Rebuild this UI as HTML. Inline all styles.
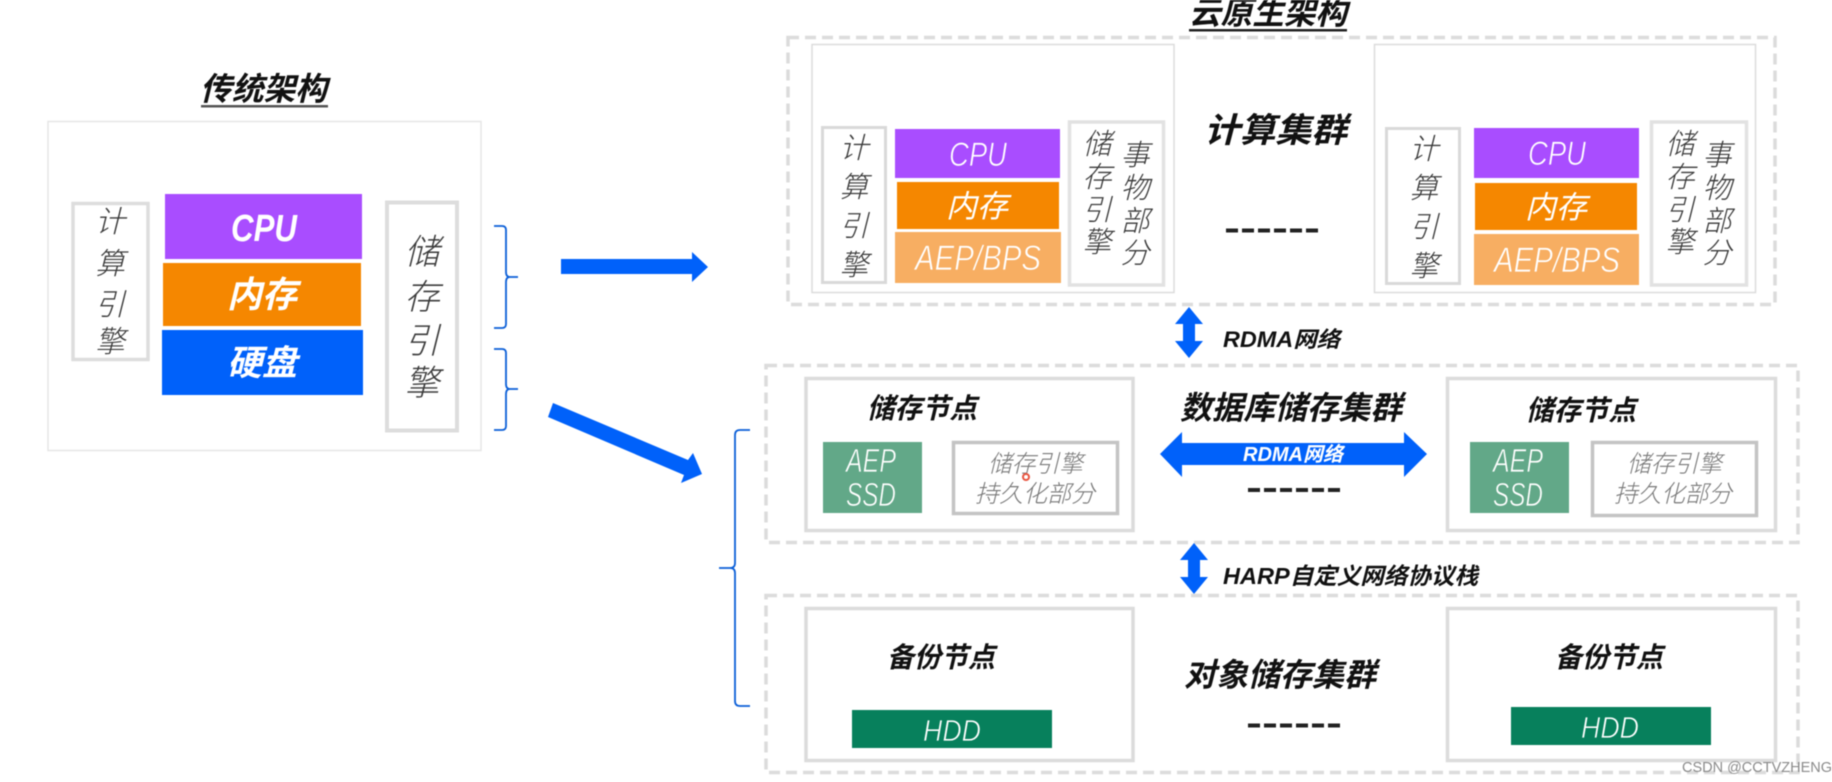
<!DOCTYPE html>
<html lang="zh">
<head>
<meta charset="utf-8">
<title>传统架构与云原生架构</title>
<style>
html,body{margin:0;padding:0;background:#fff;width:1832px;height:782px;overflow:hidden}
svg{display:block;filter:blur(.45px)}
text{font-family:"Liberation Sans","Noto Sans CJK SC",sans-serif;font-style:italic}
.t{fill:#111;font-weight:700}
.l{fill:#3a3a3a;font-weight:300}
.w{fill:#fff;font-weight:400}
.wb{fill:#fff;font-weight:700}
.g{fill:#777;font-weight:300}
</style>
</head>
<body>
<svg width="1832" height="782" viewBox="0 0 1832 782" xmlns="http://www.w3.org/2000/svg">
<rect width="1832" height="782" fill="#fff"/>

<!-- Traditional architecture -->
<text class="t" x="200" y="100" font-size="32" textLength="127" lengthAdjust="spacingAndGlyphs">传统架构</text>
<rect x="201" y="105" width="127" height="2.5" fill="#555"/>
<rect x="48" y="121.5" width="433" height="329" fill="#fff" stroke="#e6e6e6" stroke-width="1.5"/>
<rect x="73" y="203.5" width="75" height="156" fill="#fff" stroke="#ddd" stroke-width="3.5"/>
<text class="l" x="110" y="232" font-size="30" text-anchor="middle">计</text>
<text class="l" x="110" y="274" font-size="30" text-anchor="middle">算</text>
<text class="l" x="110" y="315" font-size="30" text-anchor="middle">引</text>
<text class="l" x="110" y="352" font-size="30" text-anchor="middle">擎</text>
<rect x="165" y="194" width="197" height="65" fill="#a94dff"/>
<rect x="163" y="263" width="198" height="63" fill="#f58700"/>
<rect x="162" y="330" width="201" height="65" fill="#0061fa"/>
<text class="wb" x="231" y="241" font-size="38" textLength="66" lengthAdjust="spacingAndGlyphs">CPU</text>
<text class="wb" x="227" y="307" font-size="36" textLength="70" lengthAdjust="spacingAndGlyphs">内存</text>
<text class="wb" x="227" y="375" font-size="35" textLength="70" lengthAdjust="spacingAndGlyphs">硬盘</text>
<rect x="387" y="202.5" width="70" height="228" fill="#fff" stroke="#ddd" stroke-width="4"/>
<text class="l" x="422" y="264" font-size="35" text-anchor="middle">储</text>
<text class="l" x="422" y="309" font-size="35" text-anchor="middle">存</text>
<text class="l" x="422" y="353" font-size="35" text-anchor="middle">引</text>
<text class="l" x="422" y="395" font-size="35" text-anchor="middle">擎</text>

<!-- Brackets -->
<g fill="none" stroke="#0b5fd8" stroke-width="1.8">
<path d="M494 226 H502 Q506 226 506 230 V272 Q506 277 510 277 H518 M510 277 Q506 277 506 282 V324 Q506 328 502 328 H494"/>
<path d="M494 349 H502 Q506 349 506 353 V384 Q506 389 510 389 H518 M510 389 Q506 389 506 394 V426 Q506 430 502 430 H494"/>
<path d="M750 430 H740 Q735 430 735 435 V563 Q735 568 730 568 H719 M730 568 Q735 568 735 573 V701 Q735 706 740 706 H750"/>
</g>

<!-- Main arrows -->
<polygon points="561,259 692,259 692,252 708,267 692,282 692,274 561,274" fill="#0061fa"/>
<polygon points="553,403 688,460 693,453 702,474 681,483 684,475 548,417" fill="#0061fa"/>

<!-- Cloud native title -->
<text class="t" x="1189" y="24" font-size="32" textLength="158" lengthAdjust="spacingAndGlyphs">云原生架构</text>
<rect x="1189" y="29" width="158" height="2.5" fill="#222"/>

<!-- Compute cluster -->
<rect x="788" y="37.5" width="987" height="267" fill="none" stroke="#dcdcdc" stroke-width="3.5" stroke-dasharray="11 6"/>
<rect x="812" y="44.5" width="362" height="248" fill="#fff" stroke="#dcdcdc" stroke-width="1.5"/>
<rect x="1374.5" y="44.5" width="381" height="248" fill="#fff" stroke="#dcdcdc" stroke-width="1.5"/>

<rect x="822.5" y="127.5" width="63" height="155" fill="#fff" stroke="#d9d9d9" stroke-width="3"/>
<text class="l" x="854" y="158" font-size="29" text-anchor="middle">计</text>
<text class="l" x="854" y="197" font-size="29" text-anchor="middle">算</text>
<text class="l" x="854" y="236" font-size="29" text-anchor="middle">引</text>
<text class="l" x="854" y="275" font-size="29" text-anchor="middle">擎</text>
<rect x="895" y="129" width="165" height="49" fill="#a94dff"/>
<rect x="897" y="182" width="162" height="47" fill="#f58700"/>
<rect x="895" y="232" width="166" height="51" fill="#f7ae62"/>
<text class="w" x="949" y="166" font-size="34" textLength="58" lengthAdjust="spacingAndGlyphs" stroke="#a94dff" stroke-width=".7">CPU</text>
<text class="w" x="946" y="217" font-size="31" textLength="62" lengthAdjust="spacingAndGlyphs">内存</text>
<text class="w" x="915" y="270" font-size="35" textLength="126" lengthAdjust="spacingAndGlyphs" stroke="#f7ae62" stroke-width=".7">AEP/BPS</text>
<rect x="1069.5" y="122" width="94" height="163" fill="#fff" stroke="#e2e2e2" stroke-width="3.5"/>
<text class="l" x="1097" y="154" font-size="29" text-anchor="middle">储</text>
<text class="l" x="1097" y="187" font-size="29" text-anchor="middle">存</text>
<text class="l" x="1097" y="220" font-size="29" text-anchor="middle">引</text>
<text class="l" x="1097" y="252" font-size="29" text-anchor="middle">擎</text>
<text class="l" x="1135" y="165" font-size="29" text-anchor="middle">事</text>
<text class="l" x="1135" y="198" font-size="29" text-anchor="middle">物</text>
<text class="l" x="1135" y="231" font-size="29" text-anchor="middle">部</text>
<text class="l" x="1135" y="263" font-size="29" text-anchor="middle">分</text>

<rect x="1386.5" y="128.5" width="73" height="155" fill="#fff" stroke="#d9d9d9" stroke-width="3"/>
<text class="l" x="1424" y="159" font-size="29" text-anchor="middle">计</text>
<text class="l" x="1424" y="198" font-size="29" text-anchor="middle">算</text>
<text class="l" x="1424" y="237" font-size="29" text-anchor="middle">引</text>
<text class="l" x="1424" y="276" font-size="29" text-anchor="middle">擎</text>
<rect x="1474" y="128" width="165" height="50" fill="#a94dff"/>
<rect x="1475" y="183" width="162" height="47" fill="#f58700"/>
<rect x="1474" y="234" width="165" height="51" fill="#f7ae62"/>
<text class="w" x="1528" y="165" font-size="34" textLength="58" lengthAdjust="spacingAndGlyphs" stroke="#a94dff" stroke-width=".7">CPU</text>
<text class="w" x="1525" y="218" font-size="31" textLength="62" lengthAdjust="spacingAndGlyphs">内存</text>
<text class="w" x="1494" y="272" font-size="35" textLength="126" lengthAdjust="spacingAndGlyphs" stroke="#f7ae62" stroke-width=".7">AEP/BPS</text>
<rect x="1651.5" y="122" width="95" height="163" fill="#fff" stroke="#e2e2e2" stroke-width="3.5"/>
<text class="l" x="1680" y="154" font-size="29" text-anchor="middle">储</text>
<text class="l" x="1680" y="187" font-size="29" text-anchor="middle">存</text>
<text class="l" x="1680" y="220" font-size="29" text-anchor="middle">引</text>
<text class="l" x="1680" y="252" font-size="29" text-anchor="middle">擎</text>
<text class="l" x="1717" y="165" font-size="29" text-anchor="middle">事</text>
<text class="l" x="1717" y="198" font-size="29" text-anchor="middle">物</text>
<text class="l" x="1717" y="231" font-size="29" text-anchor="middle">部</text>
<text class="l" x="1717" y="263" font-size="29" text-anchor="middle">分</text>

<text class="t" x="1204" y="142" font-size="34" textLength="143" lengthAdjust="spacingAndGlyphs">计算集群</text>
<path d="M1226 230.5 H1318" stroke="#222" stroke-width="4" stroke-dasharray="12 4"/>

<!-- RDMA connector -->
<polygon points="1189,307 1203,324 1195,324 1195,341 1203,341 1189,358 1175,341 1183,341 1183,324 1175,324" fill="#0061fa"/>
<text class="t" x="1223" y="347" font-size="22" textLength="117" lengthAdjust="spacingAndGlyphs">RDMA网络</text>

<!-- Database storage cluster -->
<rect x="766" y="365.5" width="1032" height="177" fill="none" stroke="#dcdcdc" stroke-width="3.5" stroke-dasharray="11 6"/>
<rect x="806" y="378.5" width="327" height="152" fill="#fff" stroke="#dcdcdc" stroke-width="3.5"/>
<rect x="1447.5" y="378.5" width="328" height="152" fill="#fff" stroke="#dcdcdc" stroke-width="3.5"/>
<text class="t" x="867" y="418" font-size="28" textLength="110" lengthAdjust="spacingAndGlyphs">储存节点</text>
<text class="t" x="1526" y="420" font-size="28" textLength="110" lengthAdjust="spacingAndGlyphs">储存节点</text>
<rect x="823" y="442" width="99" height="71" fill="#62a888"/>
<rect x="1470" y="442" width="99" height="71" fill="#62a888"/>
<text class="w" x="846" y="472" font-size="33" textLength="50" lengthAdjust="spacingAndGlyphs" stroke="#62a888" stroke-width=".7">AEP</text>
<text class="w" x="846" y="506" font-size="33" textLength="50" lengthAdjust="spacingAndGlyphs" stroke="#62a888" stroke-width=".7">SSD</text>
<text class="w" x="1493" y="472" font-size="33" textLength="50" lengthAdjust="spacingAndGlyphs" stroke="#62a888" stroke-width=".7">AEP</text>
<text class="w" x="1493" y="506" font-size="33" textLength="50" lengthAdjust="spacingAndGlyphs" stroke="#62a888" stroke-width=".7">SSD</text>
<rect x="953.5" y="442.5" width="164" height="71" fill="#fff" stroke="#c4c4c4" stroke-width="3.5"/>
<rect x="1592.5" y="442.5" width="164" height="73" fill="#fff" stroke="#c4c4c4" stroke-width="3.5"/>
<text class="g" x="988" y="472" font-size="24" textLength="95" lengthAdjust="spacingAndGlyphs">储存引擎</text>
<text class="g" x="975" y="502" font-size="24" textLength="120" lengthAdjust="spacingAndGlyphs">持久化部分</text>
<text class="g" x="1627" y="472" font-size="24" textLength="95" lengthAdjust="spacingAndGlyphs">储存引擎</text>
<text class="g" x="1614" y="502" font-size="24" textLength="118" lengthAdjust="spacingAndGlyphs">持久化部分</text>
<circle cx="1026" cy="477" r="3" fill="none" stroke="#e8543f" stroke-width="2"/>
<text class="t" x="1180" y="419" font-size="32" textLength="222" lengthAdjust="spacingAndGlyphs">数据库储存集群</text>
<polygon points="1160,454 1182,432 1182,443 1404,443 1404,432 1427,454 1404,477 1404,465 1182,465 1182,477" fill="#0061fa"/>
<text class="wb" x="1243" y="461" font-size="20" textLength="100" lengthAdjust="spacingAndGlyphs">RDMA网络</text>
<path d="M1248 490 H1340" stroke="#222" stroke-width="4" stroke-dasharray="12 4"/>

<!-- HARP connector -->
<polygon points="1194,543 1208,560 1200,560 1200,577 1208,577 1194,594 1180,577 1188,577 1188,560 1180,560" fill="#0061fa"/>
<text class="t" x="1223" y="584" font-size="23" textLength="255" lengthAdjust="spacingAndGlyphs">HARP自定义网络协议栈</text>

<!-- Object storage cluster -->
<rect x="766" y="595.5" width="1032" height="177" fill="none" stroke="#dcdcdc" stroke-width="3.5" stroke-dasharray="11 6"/>
<rect x="806" y="608.5" width="327" height="152" fill="#fff" stroke="#dcdcdc" stroke-width="3.5"/>
<rect x="1447.5" y="608.5" width="328" height="152" fill="#fff" stroke="#dcdcdc" stroke-width="3.5"/>
<text class="t" x="887" y="667" font-size="28" textLength="108" lengthAdjust="spacingAndGlyphs">备份节点</text>
<text class="t" x="1555" y="667" font-size="28" textLength="108" lengthAdjust="spacingAndGlyphs">备份节点</text>
<text class="t" x="1184" y="686" font-size="32" textLength="192" lengthAdjust="spacingAndGlyphs">对象储存集群</text>
<rect x="852" y="710" width="200" height="38" fill="#07805c"/>
<rect x="1511" y="707" width="200" height="38" fill="#07805c"/>
<text class="w" x="923" y="741" font-size="31" textLength="58" lengthAdjust="spacingAndGlyphs" stroke="#07805c" stroke-width=".7">HDD</text>
<text class="w" x="1581" y="738" font-size="31" textLength="58" lengthAdjust="spacingAndGlyphs" stroke="#07805c" stroke-width=".7">HDD</text>
<path d="M1248 725.5 H1340" stroke="#222" stroke-width="4" stroke-dasharray="12 4"/>

<!-- Watermark -->
<text x="1682" y="772" font-size="15" textLength="150" lengthAdjust="spacingAndGlyphs" style="font-style:normal" fill="#8a8a8a">CSDN @CCTVZHENG</text>
</svg>
</body>
</html>
